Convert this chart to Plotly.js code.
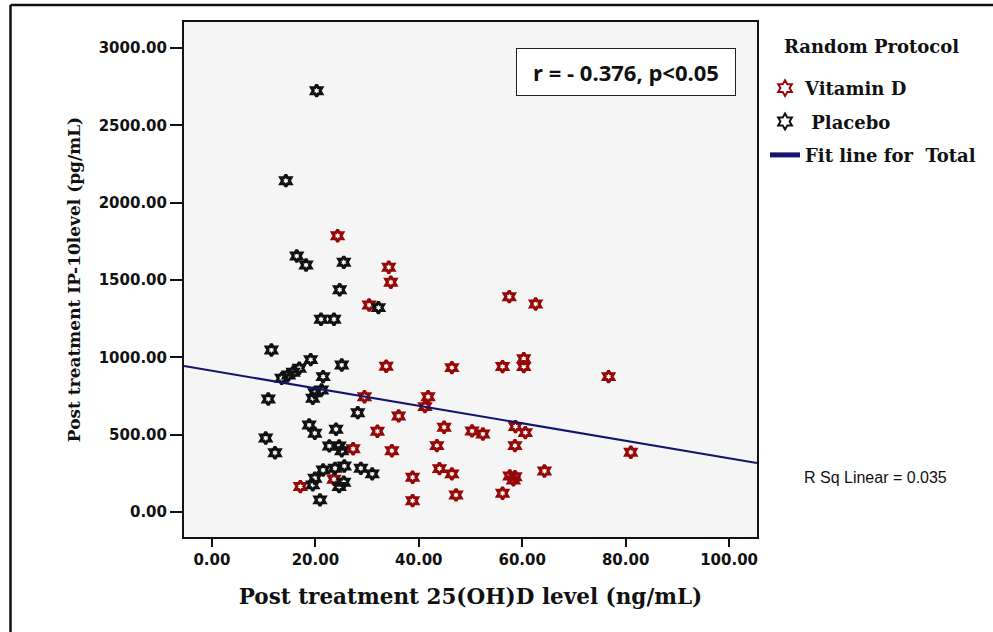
<!DOCTYPE html>
<html>
<head>
<meta charset="utf-8">
<script src="https://cdn.plot.ly/plotly-3.0.1.min.js"></script>
<style>html,body{margin:0;padding:0;background:#fff;}#chart{width:993px;height:632px;}</style>
</head>
<body>
<div id="chart"></div>
<script>
// Vitamin D group (x: 25(OH)D ng/mL, y: IP-10 pg/mL)
const vitD_x = [24.3,34.2,34.6,30.4,33.7,29.5,41.8,41.2,36.1,32.0,27.3,34.8,38.8,17.1,23.6,38.8,
                57.5,62.6,46.4,56.2,60.3,60.3,76.7,44.9,50.3,52.4,58.7,60.6,43.5,58.6,81.0,44.0,46.4,57.6,58.6,58.3,64.3,47.2,56.2];
const vitD_y = [1786,1582,1485,1338,942,745,745,681,621,522,409,396,224,164,211,73,
                1392,1345,933,940,991,940,875,548,524,504,552,513,429,429,386,280,246,233,228,207,265,110,121];
// Placebo group
const placebo_x = [20.25,14.3,16.4,18.2,25.5,24.7,32.2,21.1,23.6,11.5,19.1,25.1,16.9,15.7,14.8,13.5,21.5,21.2,19.9,19.5,
                   10.9,28.2,18.8,19.9,24.0,10.4,12.2,22.7,24.6,25.1,21.5,23.8,25.6,28.8,31.0,19.9,19.5,25.5,24.6,20.9];
const placebo_y = [2724,2142,1655,1597,1614,1437,1321,1246,1246,1047,985,950,929,903,886,864,875,789,771,735,
                   730,642,562,509,535,478,383,427,427,396,271,282,297,282,246,218,175,192,164,78];
// Fit line for total
const fitIntercept = 913;
const fitSlope = -5.66;
const xRange = [-5.4, 105.4];
const yRange = [-162, 3168];
const xTicks = [0, 20, 40, 60, 80, 100];
const yTicks = [0, 500, 1000, 1500, 2000, 2500, 3000];

const fitX = [xRange[0], xRange[1]];
const fitY = fitX.map(v => fitIntercept + fitSlope * v);

const markerStyle = (c) => ({symbol: 'hexagram-open', size: 9, color: c, line: {color: c, width: 3}});

const traces = [
  {x: vitD_x, y: vitD_y, type: 'scatter', mode: 'markers', name: 'Vitamin D', legendgroup: 'a', marker: markerStyle('#960808')},
  {x: placebo_x, y: placebo_y, type: 'scatter', mode: 'markers', name: ' Placebo', legendgroup: 'b', marker: markerStyle('#111111')},
  {x: fitX, y: fitY, type: 'scatter', mode: 'lines', name: 'Fit line for  Total', legendgroup: 'c', line: {color: '#14146e', width: 2}}
];

const serif = 'DejaVu Serif, serif';
const tickFont = {family: 'DejaVu Sans, Verdana, sans-serif', size: 15, color: '#111', weight: 'bold'};

const layout = {
  width: 993, height: 632,
  margin: {l: 184, r: 236, t: 22, b: 95},
  paper_bgcolor: '#ffffff',
  plot_bgcolor: '#f5f5f5',
  showlegend: true,
  legend: {
    x: 1.014, y: 0.907, xanchor: 'left', yanchor: 'top',
    bgcolor: 'rgba(0,0,0,0)',
    font: {family: serif, size: 18, color: '#111', weight: 'bold'},
    itemsizing: 'constant', traceorder: 'grouped', tracegroupgap: 7
  },
  xaxis: {
    range: xRange, tickvals: xTicks, tickformat: '.2f',
    showgrid: false, zeroline: false,
    showline: true, linecolor: '#111', linewidth: 2, mirror: true,
    ticks: 'outside', ticklen: 8, tickwidth: 2, tickcolor: '#111',
    tickfont: tickFont,
    title: {text: '<b>Post treatment 25(OH)D level (ng/mL)</b>', font: {family: serif, size: 21.5, color: '#111'}, standoff: 21}
  },
  yaxis: {
    range: yRange, tickvals: yTicks, tickformat: '.2f',
    showgrid: false, zeroline: false,
    showline: true, linecolor: '#111', linewidth: 2, mirror: true,
    ticks: 'outside', ticklen: 12, tickwidth: 2, tickcolor: '#111',
    ticklabelstandoff: 0,
    tickfont: tickFont,
    title: {text: '<b>Post treatment IP-10level (pg/mL)</b>', font: {family: serif, size: 17, color: '#111'}, standoff: 14}
  },
  annotations: [
    {xref: 'paper', yref: 'paper', x: 1.2, y: 0.952, xanchor: 'center', yanchor: 'middle',
     text: '<b>Random Protocol</b>', showarrow: false,
     font: {family: serif, size: 18, color: '#111'}},
    {xref: 'paper', yref: 'paper', x: 0.771, y: 0.903, xanchor: 'center', yanchor: 'middle',
     text: '<b>r = - 0.376, p<0.05</b>', showarrow: false,
     font: {family: 'Open Sans, Liberation Sans, sans-serif', size: 22, color: '#111'},
     bgcolor: '#ffffff', bordercolor: '#222', borderwidth: 1, width: 214, height: 42, borderpad: 2},
    {xref: 'paper', yref: 'paper', x: 1.206, y: 0.1146, xanchor: 'center', yanchor: 'middle',
     text: 'R Sq Linear = 0.035', showarrow: false,
     font: {family: 'Liberation Sans, Arial, sans-serif', size: 16, color: '#111'}}
  ],
  shapes: [
    {type: 'line', xref: 'paper', yref: 'paper', x0: -0.3028, x1: -0.3028, y0: 1.033, y1: -0.2, line: {color: '#111', width: 2.5}},
    {type: 'line', xref: 'paper', yref: 'paper', x0: -0.3028, x1: 1.42, y0: 1.033, y1: 1.033, line: {color: '#111', width: 2.5}}
  ]
};

Plotly.newPlot('chart', traces, layout, {displayModeBar: false, staticPlot: true});
</script>
</body>
</html>
